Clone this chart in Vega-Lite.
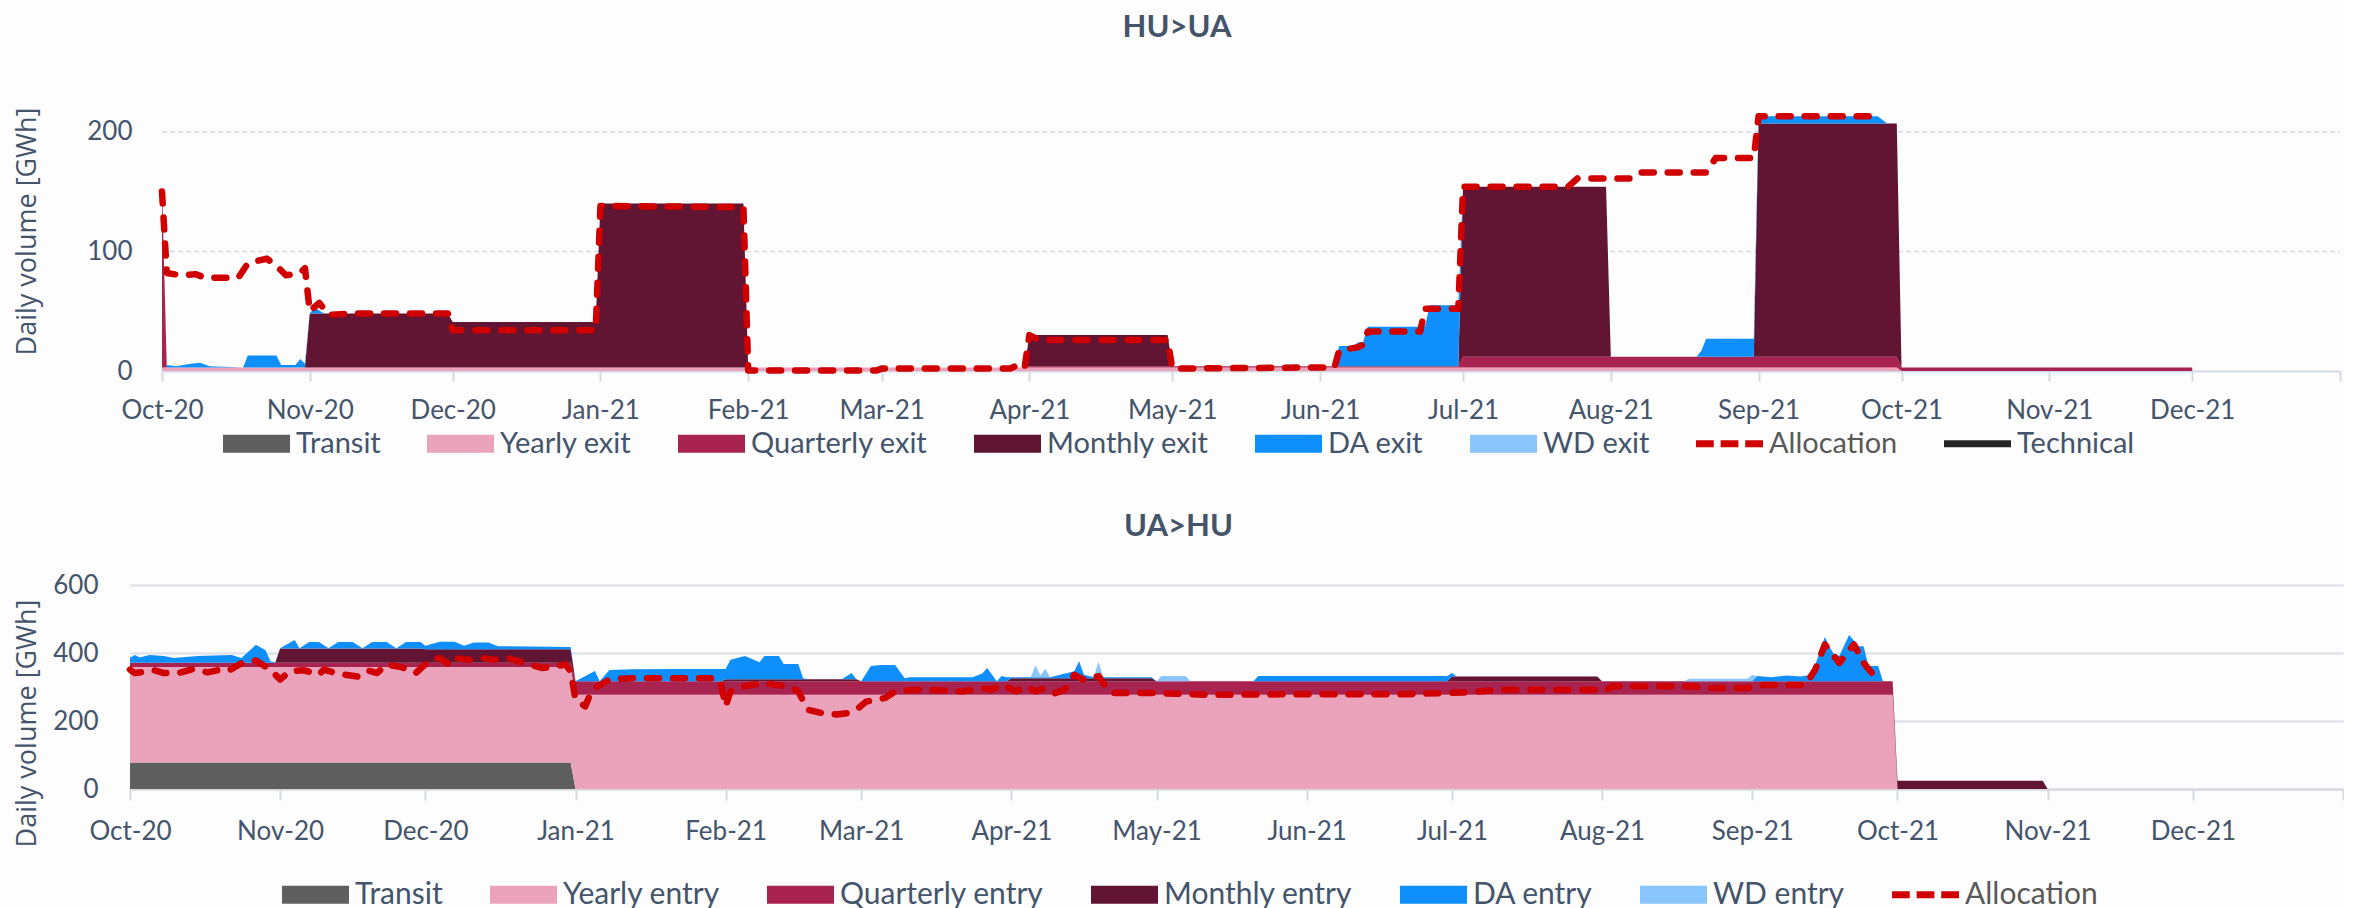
{
  "$schema": "https://vega.github.io/schema/vega-lite/v6.json",
  "background": "#fdfdfe",
  "padding": {"left": 13, "top": 12, "right": 0, "bottom": 0},
  "config": {
    "view": {"stroke": null},
    "axis": {"labelFont": "Lato", "labelFontSize": 26, "labelColor": "#44546A", "titleColor": "#44546A"}
  },
  "spacing": 52,
  "resolve": {"scale": {"x": "independent", "y": "independent", "color": "independent"}, "legend": {"color": "independent"}},
  "datasets": {
    "top_area": [
      {"d":"2020-10-01","Y":3,"Q":152,"M":0,"D":0},
      {"d":"2020-10-02","Y":3,"Q":0,"M":0,"D":2},
      {"d":"2020-10-04","Y":3,"Q":0,"M":0,"D":1},
      {"d":"2020-10-07","Y":3,"Q":0,"M":0,"D":3},
      {"d":"2020-10-09","Y":3,"Q":0,"M":0,"D":4},
      {"d":"2020-10-11","Y":3,"Q":0,"M":0,"D":1},
      {"d":"2020-10-18","Y":3,"Q":0,"M":0,"D":0},
      {"d":"2020-10-19","Y":3,"Q":0,"M":0,"D":10},
      {"d":"2020-10-25","Y":3,"Q":0,"M":0,"D":10},
      {"d":"2020-10-26","Y":3,"Q":0,"M":0,"D":2},
      {"d":"2020-10-29","Y":3,"Q":0,"M":0,"D":2},
      {"d":"2020-10-30","Y":3,"Q":0,"M":0,"D":7},
      {"d":"2020-10-31","Y":3,"Q":0,"M":0,"D":3},
      {"d":"2020-11-01","Y":3,"Q":0,"M":45,"D":0},
      {"d":"2020-11-02","Y":3,"Q":0,"M":45,"D":5},
      {"d":"2020-11-04","Y":3,"Q":0,"M":45,"D":0},
      {"d":"2020-11-30","Y":3,"Q":0,"M":45,"D":0},
      {"d":"2020-12-01","Y":3,"Q":0,"M":38,"D":0},
      {"d":"2020-12-31","Y":3,"Q":0,"M":38,"D":0},
      {"d":"2021-01-01","Y":3,"Q":0,"M":137,"D":0},
      {"d":"2021-01-31","Y":3,"Q":0,"M":137,"D":0},
      {"d":"2021-02-01","Y":3,"Q":0,"M":0,"D":0},
      {"d":"2021-03-31","Y":3,"Q":0,"M":0,"D":0},
      {"d":"2021-04-01","Y":3,"Q":1,"M":26,"D":0},
      {"d":"2021-04-30","Y":3,"Q":1,"M":26,"D":0},
      {"d":"2021-05-01","Y":3,"Q":1,"M":0,"D":0},
      {"d":"2021-06-04","Y":3,"Q":1,"M":0,"D":0},
      {"d":"2021-06-05","Y":3,"Q":1,"M":0,"D":17},
      {"d":"2021-06-08","Y":3,"Q":1,"M":0,"D":17},
      {"d":"2021-06-09","Y":3,"Q":1,"M":0,"D":20},
      {"d":"2021-06-10","Y":3,"Q":1,"M":0,"D":20},
      {"d":"2021-06-11","Y":3,"Q":1,"M":0,"D":33},
      {"d":"2021-06-23","Y":3,"Q":1,"M":0,"D":33},
      {"d":"2021-06-24","Y":3,"Q":1,"M":0,"D":51},
      {"d":"2021-06-30","Y":3,"Q":1,"M":0,"D":51},
      {"d":"2021-07-01","Y":3,"Q":9,"M":142,"D":0},
      {"d":"2021-07-31","Y":3,"Q":9,"M":142,"D":0},
      {"d":"2021-08-01","Y":3,"Q":9,"M":0,"D":0},
      {"d":"2021-08-19","Y":3,"Q":9,"M":0,"D":0},
      {"d":"2021-08-20","Y":3,"Q":9,"M":0,"D":5},
      {"d":"2021-08-21","Y":3,"Q":9,"M":0,"D":15},
      {"d":"2021-08-31","Y":3,"Q":9,"M":0,"D":15},
      {"d":"2021-09-01","Y":3,"Q":9,"M":195,"D":6},
      {"d":"2021-09-26","Y":3,"Q":9,"M":195,"D":6},
      {"d":"2021-09-28","Y":3,"Q":9,"M":195,"D":0},
      {"d":"2021-09-30","Y":3,"Q":9,"M":195,"D":0},
      {"d":"2021-10-01","Y":0,"Q":3,"M":0,"D":0},
      {"d":"2021-12-01","Y":0,"Q":3,"M":0,"D":0}
    ],
    "top_alloc": [
      {"d":"2020-10-01","v":150},{"d":"2020-10-02","v":82},{"d":"2020-10-05","v":80},{"d":"2020-10-08","v":81},
      {"d":"2020-10-10","v":78},{"d":"2020-10-17","v":78},{"d":"2020-10-19","v":90},{"d":"2020-10-23","v":94},
      {"d":"2020-10-25","v":88},{"d":"2020-10-27","v":80},{"d":"2020-10-30","v":82},{"d":"2020-10-31","v":86},
      {"d":"2020-11-01","v":50},{"d":"2020-11-03","v":57},{"d":"2020-11-05","v":47},{"d":"2020-11-10","v":48},
      {"d":"2020-11-30","v":48},{"d":"2020-12-01","v":34},{"d":"2020-12-31","v":34},{"d":"2021-01-01","v":138},
      {"d":"2021-01-31","v":137},{"d":"2021-02-01","v":0.5},{"d":"2021-02-28","v":0.5},{"d":"2021-03-01","v":2},
      {"d":"2021-03-28","v":2},{"d":"2021-03-30","v":6},{"d":"2021-03-31","v":3},{"d":"2021-04-01","v":30},
      {"d":"2021-04-03","v":26},{"d":"2021-04-30","v":26},{"d":"2021-05-01","v":2},{"d":"2021-05-31","v":3},
      {"d":"2021-06-04","v":3},{"d":"2021-06-05","v":17},{"d":"2021-06-09","v":20},{"d":"2021-06-10","v":22},
      {"d":"2021-06-11","v":33},{"d":"2021-06-22","v":33},{"d":"2021-06-23","v":52},{"d":"2021-06-30","v":52},
      {"d":"2021-07-01","v":154},{"d":"2021-07-23","v":154},{"d":"2021-07-25","v":161},{"d":"2021-08-05","v":161},
      {"d":"2021-08-07","v":166},{"d":"2021-08-21","v":166},{"d":"2021-08-23","v":178},{"d":"2021-08-31","v":178},
      {"d":"2021-09-01","v":213},{"d":"2021-09-26","v":213}
    ],
    "top_grid": [{"g": 100}, {"g": 200}],
    "bot_area": [
      {"d":"2020-10-01","T":78,"Y":281,"Q":12,"M":0,"D":15,"W":0},
      {"d":"2020-10-02","T":78,"Y":281,"Q":12,"M":0,"D":23,"W":0},
      {"d":"2020-10-03","T":78,"Y":281,"Q":12,"M":0,"D":16,"W":0},
      {"d":"2020-10-05","T":78,"Y":281,"Q":12,"M":0,"D":23,"W":0},
      {"d":"2020-10-08","T":78,"Y":281,"Q":12,"M":0,"D":20,"W":0},
      {"d":"2020-10-10","T":78,"Y":281,"Q":12,"M":0,"D":14,"W":0},
      {"d":"2020-10-15","T":78,"Y":281,"Q":12,"M":0,"D":20,"W":0},
      {"d":"2020-10-22","T":78,"Y":281,"Q":12,"M":0,"D":23,"W":0},
      {"d":"2020-10-24","T":78,"Y":281,"Q":12,"M":0,"D":14,"W":0},
      {"d":"2020-10-27","T":78,"Y":281,"Q":12,"M":0,"D":53,"W":0},
      {"d":"2020-10-29","T":78,"Y":281,"Q":12,"M":0,"D":37,"W":0},
      {"d":"2020-10-30","T":78,"Y":281,"Q":12,"M":0,"D":5,"W":0},
      {"d":"2020-10-31","T":78,"Y":281,"Q":12,"M":0,"D":2,"W":0},
      {"d":"2020-11-01","T":78,"Y":281,"Q":12,"M":42,"D":1,"W":0},
      {"d":"2020-11-04","T":78,"Y":281,"Q":12,"M":42,"D":25,"W":0},
      {"d":"2020-11-05","T":78,"Y":281,"Q":12,"M":42,"D":1,"W":0},
      {"d":"2020-11-07","T":78,"Y":281,"Q":12,"M":42,"D":19,"W":0},
      {"d":"2020-11-09","T":78,"Y":281,"Q":12,"M":42,"D":19,"W":0},
      {"d":"2020-11-11","T":78,"Y":281,"Q":12,"M":42,"D":1,"W":0},
      {"d":"2020-11-13","T":78,"Y":281,"Q":12,"M":42,"D":19,"W":0},
      {"d":"2020-11-16","T":78,"Y":281,"Q":12,"M":42,"D":19,"W":0},
      {"d":"2020-11-18","T":78,"Y":281,"Q":12,"M":42,"D":1,"W":0},
      {"d":"2020-11-20","T":78,"Y":281,"Q":12,"M":42,"D":19,"W":0},
      {"d":"2020-11-23","T":78,"Y":281,"Q":12,"M":42,"D":19,"W":0},
      {"d":"2020-11-25","T":78,"Y":281,"Q":12,"M":42,"D":1,"W":0},
      {"d":"2020-11-27","T":78,"Y":281,"Q":12,"M":42,"D":19,"W":0},
      {"d":"2020-11-30","T":78,"Y":281,"Q":12,"M":42,"D":19,"W":0},
      {"d":"2020-12-01","T":78,"Y":281,"Q":12,"M":40,"D":10,"W":0},
      {"d":"2020-12-04","T":78,"Y":281,"Q":12,"M":40,"D":22,"W":0},
      {"d":"2020-12-07","T":78,"Y":281,"Q":12,"M":40,"D":22,"W":0},
      {"d":"2020-12-09","T":78,"Y":281,"Q":12,"M":40,"D":10,"W":0},
      {"d":"2020-12-11","T":78,"Y":281,"Q":12,"M":40,"D":20,"W":0},
      {"d":"2020-12-14","T":78,"Y":281,"Q":12,"M":40,"D":20,"W":0},
      {"d":"2020-12-16","T":78,"Y":281,"Q":12,"M":40,"D":9,"W":0},
      {"d":"2020-12-31","T":78,"Y":281,"Q":12,"M":40,"D":7,"W":0},
      {"d":"2021-01-01","T":0,"Y":277,"Q":40,"M":0,"D":0,"W":0},
      {"d":"2021-01-05","T":0,"Y":277,"Q":40,"M":0,"D":30,"W":0},
      {"d":"2021-01-06","T":0,"Y":277,"Q":40,"M":0,"D":0,"W":0},
      {"d":"2021-01-08","T":0,"Y":277,"Q":40,"M":0,"D":33,"W":0},
      {"d":"2021-01-13","T":0,"Y":277,"Q":40,"M":0,"D":35,"W":0},
      {"d":"2021-01-22","T":0,"Y":277,"Q":40,"M":0,"D":36,"W":0},
      {"d":"2021-01-31","T":0,"Y":277,"Q":40,"M":0,"D":36,"W":0},
      {"d":"2021-02-01","T":0,"Y":277,"Q":40,"M":6,"D":30,"W":0},
      {"d":"2021-02-02","T":0,"Y":277,"Q":40,"M":6,"D":57,"W":0},
      {"d":"2021-02-05","T":0,"Y":277,"Q":40,"M":6,"D":68,"W":0},
      {"d":"2021-02-08","T":0,"Y":277,"Q":40,"M":6,"D":50,"W":0},
      {"d":"2021-02-09","T":0,"Y":277,"Q":40,"M":6,"D":68,"W":0},
      {"d":"2021-02-12","T":0,"Y":277,"Q":40,"M":6,"D":68,"W":0},
      {"d":"2021-02-13","T":0,"Y":277,"Q":40,"M":6,"D":45,"W":0},
      {"d":"2021-02-16","T":0,"Y":277,"Q":40,"M":6,"D":45,"W":0},
      {"d":"2021-02-17","T":0,"Y":277,"Q":40,"M":6,"D":3,"W":0},
      {"d":"2021-02-18","T":0,"Y":277,"Q":40,"M":6,"D":0,"W":0},
      {"d":"2021-02-25","T":0,"Y":277,"Q":40,"M":6,"D":0,"W":0},
      {"d":"2021-02-27","T":0,"Y":277,"Q":40,"M":6,"D":18,"W":0},
      {"d":"2021-02-28","T":0,"Y":277,"Q":40,"M":6,"D":0,"W":0},
      {"d":"2021-03-01","T":0,"Y":277,"Q":40,"M":0,"D":0,"W":0},
      {"d":"2021-03-03","T":0,"Y":277,"Q":40,"M":0,"D":45,"W":0},
      {"d":"2021-03-05","T":0,"Y":277,"Q":40,"M":0,"D":48,"W":0},
      {"d":"2021-03-08","T":0,"Y":277,"Q":40,"M":0,"D":48,"W":0},
      {"d":"2021-03-10","T":0,"Y":277,"Q":40,"M":0,"D":9,"W":0},
      {"d":"2021-03-11","T":0,"Y":277,"Q":40,"M":0,"D":12,"W":0},
      {"d":"2021-03-24","T":0,"Y":277,"Q":40,"M":0,"D":12,"W":0},
      {"d":"2021-03-26","T":0,"Y":277,"Q":40,"M":0,"D":23,"W":0},
      {"d":"2021-03-27","T":0,"Y":277,"Q":40,"M":0,"D":39,"W":0},
      {"d":"2021-03-29","T":0,"Y":277,"Q":40,"M":0,"D":0,"W":0},
      {"d":"2021-03-30","T":0,"Y":277,"Q":40,"M":0,"D":15,"W":0},
      {"d":"2021-03-31","T":0,"Y":277,"Q":40,"M":0,"D":12,"W":0},
      {"d":"2021-04-01","T":0,"Y":277,"Q":40,"M":9,"D":3,"W":0},
      {"d":"2021-04-05","T":0,"Y":277,"Q":40,"M":9,"D":3,"W":0},
      {"d":"2021-04-06","T":0,"Y":277,"Q":40,"M":9,"D":3,"W":35},
      {"d":"2021-04-07","T":0,"Y":277,"Q":40,"M":9,"D":3,"W":5},
      {"d":"2021-04-08","T":0,"Y":277,"Q":40,"M":9,"D":3,"W":25},
      {"d":"2021-04-09","T":0,"Y":277,"Q":40,"M":9,"D":3,"W":0},
      {"d":"2021-04-14","T":0,"Y":277,"Q":40,"M":9,"D":20,"W":0},
      {"d":"2021-04-15","T":0,"Y":277,"Q":40,"M":9,"D":50,"W":0},
      {"d":"2021-04-16","T":0,"Y":277,"Q":40,"M":9,"D":10,"W":0},
      {"d":"2021-04-18","T":0,"Y":277,"Q":40,"M":9,"D":3,"W":0},
      {"d":"2021-04-19","T":0,"Y":277,"Q":40,"M":9,"D":3,"W":45},
      {"d":"2021-04-20","T":0,"Y":277,"Q":40,"M":9,"D":3,"W":0},
      {"d":"2021-04-30","T":0,"Y":277,"Q":40,"M":9,"D":3,"W":0},
      {"d":"2021-05-01","T":0,"Y":277,"Q":40,"M":0,"D":0,"W":0},
      {"d":"2021-05-02","T":0,"Y":277,"Q":40,"M":0,"D":0,"W":15},
      {"d":"2021-05-07","T":0,"Y":277,"Q":40,"M":0,"D":0,"W":15},
      {"d":"2021-05-08","T":0,"Y":277,"Q":40,"M":0,"D":0,"W":0},
      {"d":"2021-05-21","T":0,"Y":277,"Q":40,"M":0,"D":0,"W":0},
      {"d":"2021-05-22","T":0,"Y":277,"Q":40,"M":0,"D":15,"W":0},
      {"d":"2021-06-30","T":0,"Y":277,"Q":40,"M":0,"D":15,"W":0},
      {"d":"2021-07-01","T":0,"Y":277,"Q":40,"M":14,"D":10,"W":0},
      {"d":"2021-07-02","T":0,"Y":277,"Q":40,"M":14,"D":0,"W":0},
      {"d":"2021-07-31","T":0,"Y":277,"Q":40,"M":14,"D":0,"W":0},
      {"d":"2021-08-01","T":0,"Y":277,"Q":40,"M":0,"D":0,"W":0},
      {"d":"2021-08-18","T":0,"Y":277,"Q":40,"M":0,"D":0,"W":0},
      {"d":"2021-08-19","T":0,"Y":277,"Q":40,"M":0,"D":0,"W":7},
      {"d":"2021-08-31","T":0,"Y":277,"Q":40,"M":0,"D":0,"W":7},
      {"d":"2021-09-01","T":0,"Y":277,"Q":40,"M":0,"D":0,"W":18},
      {"d":"2021-09-02","T":0,"Y":277,"Q":40,"M":0,"D":15,"W":0},
      {"d":"2021-09-05","T":0,"Y":277,"Q":40,"M":0,"D":12,"W":0},
      {"d":"2021-09-08","T":0,"Y":277,"Q":40,"M":0,"D":17,"W":0},
      {"d":"2021-09-11","T":0,"Y":277,"Q":40,"M":0,"D":14,"W":0},
      {"d":"2021-09-13","T":0,"Y":277,"Q":40,"M":0,"D":18,"W":0},
      {"d":"2021-09-14","T":0,"Y":277,"Q":40,"M":0,"D":48,"W":0},
      {"d":"2021-09-16","T":0,"Y":277,"Q":40,"M":0,"D":130,"W":0},
      {"d":"2021-09-17","T":0,"Y":277,"Q":40,"M":0,"D":100,"W":0},
      {"d":"2021-09-18","T":0,"Y":277,"Q":40,"M":0,"D":77,"W":0},
      {"d":"2021-09-19","T":0,"Y":277,"Q":40,"M":0,"D":75,"W":0},
      {"d":"2021-09-21","T":0,"Y":277,"Q":40,"M":0,"D":136,"W":0},
      {"d":"2021-09-22","T":0,"Y":277,"Q":40,"M":0,"D":120,"W":0},
      {"d":"2021-09-23","T":0,"Y":277,"Q":40,"M":0,"D":103,"W":0},
      {"d":"2021-09-24","T":0,"Y":277,"Q":40,"M":0,"D":103,"W":0},
      {"d":"2021-09-25","T":0,"Y":277,"Q":40,"M":0,"D":45,"W":0},
      {"d":"2021-09-27","T":0,"Y":277,"Q":40,"M":0,"D":45,"W":0},
      {"d":"2021-09-28","T":0,"Y":277,"Q":40,"M":0,"D":0,"W":0},
      {"d":"2021-09-30","T":0,"Y":277,"Q":40,"M":0,"D":0,"W":0},
      {"d":"2021-10-01","T":0,"Y":0,"Q":0,"M":24,"D":0,"W":0},
      {"d":"2021-10-31","T":0,"Y":0,"Q":0,"M":24,"D":0,"W":0},
      {"d":"2021-11-01","T":0,"Y":0,"Q":0,"M":0,"D":0,"W":0}
    ],
    "bot_alloc": [
      {"d":"2020-10-01","v":351},{"d":"2020-10-02","v":341},{"d":"2020-10-06","v":349},{"d":"2020-10-08","v":341},
      {"d":"2020-10-11","v":341},{"d":"2020-10-14","v":353},{"d":"2020-10-17","v":343},{"d":"2020-10-19","v":349},
      {"d":"2020-10-21","v":346},{"d":"2020-10-22","v":353},{"d":"2020-10-24","v":370},{"d":"2020-10-27","v":378},
      {"d":"2020-10-30","v":351},{"d":"2020-11-01","v":322},{"d":"2020-11-03","v":346},{"d":"2020-11-06","v":349},
      {"d":"2020-11-09","v":336},{"d":"2020-11-10","v":351},{"d":"2020-11-13","v":339},{"d":"2020-11-17","v":331},
      {"d":"2020-11-19","v":349},{"d":"2020-11-21","v":341},{"d":"2020-11-23","v":366},{"d":"2020-11-26","v":359},
      {"d":"2020-11-29","v":341},{"d":"2020-12-02","v":380},{"d":"2020-12-04","v":385},{"d":"2020-12-06","v":366},
      {"d":"2020-12-07","v":385},{"d":"2020-12-10","v":380},{"d":"2020-12-13","v":385},{"d":"2020-12-15","v":380},
      {"d":"2020-12-18","v":385},{"d":"2020-12-21","v":373},{"d":"2020-12-25","v":356},{"d":"2020-12-28","v":361},
      {"d":"2020-12-30","v":366},{"d":"2020-12-31","v":346},{"d":"2021-01-01","v":263},{"d":"2021-01-03","v":243},
      {"d":"2021-01-04","v":277},{"d":"2021-01-05","v":297},{"d":"2021-01-08","v":322},{"d":"2021-01-13","v":326},
      {"d":"2021-01-22","v":326},{"d":"2021-01-30","v":326},{"d":"2021-01-31","v":312},{"d":"2021-02-01","v":243},
      {"d":"2021-02-02","v":287},{"d":"2021-02-04","v":300},{"d":"2021-02-06","v":305},{"d":"2021-02-09","v":312},
      {"d":"2021-02-11","v":307},{"d":"2021-02-14","v":302},{"d":"2021-02-16","v":287},{"d":"2021-02-18","v":233},
      {"d":"2021-02-21","v":223},{"d":"2021-02-24","v":219},{"d":"2021-02-26","v":223},{"d":"2021-02-28","v":233},
      {"d":"2021-03-02","v":257},{"d":"2021-03-04","v":262},{"d":"2021-03-06","v":268},{"d":"2021-03-08","v":287},
      {"d":"2021-03-13","v":292},{"d":"2021-03-18","v":290},{"d":"2021-03-22","v":287},{"d":"2021-03-26","v":297},
      {"d":"2021-03-28","v":292},{"d":"2021-03-30","v":307},{"d":"2021-04-02","v":287},{"d":"2021-04-04","v":302},
      {"d":"2021-04-06","v":287},{"d":"2021-04-08","v":297},{"d":"2021-04-10","v":282},{"d":"2021-04-12","v":292},
      {"d":"2021-04-14","v":336},{"d":"2021-04-16","v":321},{"d":"2021-04-19","v":332},{"d":"2021-04-21","v":292},
      {"d":"2021-04-22","v":282},{"d":"2021-05-01","v":282},{"d":"2021-05-12","v":277},{"d":"2021-06-01","v":279},
      {"d":"2021-06-22","v":279},{"d":"2021-07-04","v":284},{"d":"2021-07-11","v":292},{"d":"2021-08-02","v":292},
      {"d":"2021-08-03","v":302},{"d":"2021-08-20","v":302},{"d":"2021-08-22","v":297},{"d":"2021-08-31","v":297},
      {"d":"2021-09-03","v":306},{"d":"2021-09-12","v":306},{"d":"2021-09-14","v":351},{"d":"2021-09-16","v":425},
      {"d":"2021-09-19","v":371},{"d":"2021-09-22","v":425},{"d":"2021-09-24","v":371},{"d":"2021-09-26","v":336}
    ]
  },
  "vconcat": [
    {
      "width": 2210,
      "height": 299,
      "title": {"text": "HU>UA", "font": "Lato", "fontSize": 31, "fontWeight": "bold", "color": "#44546A", "offset": 28, "anchor": "middle", "frame": "bounds"},
      "layer": [
        {
          "data": {"name": "top_grid"},
          "mark": {"type": "rule", "color": "#d6dbe2", "strokeWidth": 1.5, "strokeDash": [5, 3]},
          "encoding": {
            "y": {"field": "g", "type": "quantitative"},
            "x": {"datum": {"year": 2020, "month": 10, "date": 1, "utc": true}, "type": "temporal"},
            "x2": {"datum": {"year": 2022, "month": 1, "date": 1, "utc": true}}
          }
        },
        {
          "data": {"name": "top_area"},
          "transform": [
            {"fold": ["Y", "Q", "M", "D"], "as": ["key", "value"]},
            {"lookup": "key", "from": {"data": {"values": [
              {"key": "T", "series": "Transit", "k": 1},
              {"key": "Y", "series": "Yearly exit", "k": 2},
              {"key": "Q", "series": "Quarterly exit", "k": 3},
              {"key": "M", "series": "Monthly exit", "k": 4},
              {"key": "D", "series": "DA exit", "k": 5},
              {"key": "W", "series": "WD exit", "k": 6}
            ]}, "key": "key", "fields": ["series", "k"]}}
          ],
          "mark": {"type": "area", "interpolate": "linear", "opacity": 1},
          "encoding": {
            "x": {
              "field": "d", "type": "temporal",
              "scale": {"type": "utc", "range": [32, 2210], "domain": [{"year": 2020, "month": 10, "date": 1, "utc": true}, {"year": 2022, "month": 1, "date": 1, "utc": true}]},
              "axis": {
                "title": null, "grid": false,
                "values": [
                  {"year": 2020, "month": 10, "date": 1, "utc": true}, {"year": 2020, "month": 11, "date": 1, "utc": true},
                  {"year": 2020, "month": 12, "date": 1, "utc": true}, {"year": 2021, "month": 1, "date": 1, "utc": true},
                  {"year": 2021, "month": 2, "date": 1, "utc": true}, {"year": 2021, "month": 3, "date": 1, "utc": true},
                  {"year": 2021, "month": 4, "date": 1, "utc": true}, {"year": 2021, "month": 5, "date": 1, "utc": true},
                  {"year": 2021, "month": 6, "date": 1, "utc": true}, {"year": 2021, "month": 7, "date": 1, "utc": true},
                  {"year": 2021, "month": 8, "date": 1, "utc": true}, {"year": 2021, "month": 9, "date": 1, "utc": true},
                  {"year": 2021, "month": 10, "date": 1, "utc": true}, {"year": 2021, "month": 11, "date": 1, "utc": true},
                  {"year": 2021, "month": 12, "date": 1, "utc": true}, {"year": 2022, "month": 1, "date": 1, "utc": true}
                ],
                "labelExpr": "utcFormat(datum.value, '%b-%y') == 'Jan-22' ? '' : utcFormat(datum.value, '%b-%y')",
                "domainColor": "#d5dae1", "domainWidth": 2, "tickColor": "#d5dae1", "tickWidth": 2, "tickSize": 10,
                "labelPadding": 16, "labelOverlap": false, "labelFlush": false, "labelBound": false
              }
            },
            "y": {
              "field": "value", "type": "quantitative", "stack": "zero",
              "scale": {"domain": [0, 250], "nice": false},
              "axis": {
                "values": [0, 100, 200], "grid": false, "offset": -32,
                "domain": false, "ticks": false, "labelPadding": 30,
                "title": "Daily volume [GWh]", "titleFont": "Open Sans", "titleFontSize": 27, "titleFontWeight": "normal",
                "titleX": -135, "titleY": 159, "titleAngle": 270, "titleBaseline": "middle", "titleAlign": "center"
              }
            },
            "color": {
              "field": "series", "type": "nominal",
              "scale": {
                "domain": ["Transit", "Yearly exit", "Quarterly exit", "Monthly exit", "DA exit", "WD exit", "Allocation", "Technical"],
                "range": ["#5f5f5f", "#eba2bb", "#a8234f", "#611532", "#0e8ffb", "#8ac6fb", "#d00000", "#262626"]
              },
              "legend": {
                "orient": "none", "legendX": 93, "legendY": 338, "direction": "horizontal", "title": null, "padding": 0,
                "symbolType": "M-1,-0.27H1V0.27H-1Z", "symbolSize": 4489, "symbolStrokeWidth": 0, "symbolOpacity": 1,
                "labelFont": "Lato", "labelFontSize": 29, "labelColor": "#44546A", "labelOffset": 6, "labelLimit": 500,
                "columnPadding": 46,
                "encode": {
                  "symbols": {"update": {
                    "shape": {"signal": "datum.value === 'Allocation' ? 'M-1,-0.105H-0.47V0.105H-1Z M-0.265,-0.105H0.265V0.105H-0.265Z M0.47,-0.105H1V0.105H0.47Z' : (datum.value === 'Technical' ? 'M-1,-0.105H1V0.105H-1Z' : 'M-1,-0.27H1V0.27H-1Z')"}
                  }},
                  "labels": {"update": {"fill": {"signal": "datum.value === 'Allocation' ? '#595959' : '#44546A'"}}}
                }
              }
            },
            "order": {"field": "k", "type": "quantitative", "sort": "ascending"}
          }
        },
        {
          "data": {"name": "top_alloc"},
          "mark": {"type": "line", "color": "#d00000", "strokeWidth": 6.5, "strokeDash": [12, 14], "strokeCap": "round", "strokeJoin": "round"},
          "encoding": {
            "x": {"field": "d", "type": "temporal"},
            "y": {"field": "v", "type": "quantitative"}
          }
        }
      ]
    },
    {
      "width": 2213,
      "height": 204,
      "title": {"text": "UA>HU", "font": "Lato", "fontSize": 31, "fontWeight": "bold", "color": "#44546A", "offset": 29, "anchor": "middle", "frame": "bounds"},
      "layer": [
        {
          "data": {"name": "bot_area"},
          "transform": [
            {"fold": ["T", "Y", "Q", "M", "D", "W"], "as": ["key", "value"]},
            {"lookup": "key", "from": {"data": {"values": [
              {"key": "T", "series": "Transit", "k": 1},
              {"key": "Y", "series": "Yearly entry", "k": 2},
              {"key": "Q", "series": "Quarterly entry", "k": 3},
              {"key": "M", "series": "Monthly entry", "k": 4},
              {"key": "D", "series": "DA entry", "k": 5},
              {"key": "W", "series": "WD entry", "k": 6}
            ]}, "key": "key", "fields": ["series", "k"]}}
          ],
          "mark": {"type": "area", "interpolate": "linear", "opacity": 1},
          "encoding": {
            "x": {
              "field": "d", "type": "temporal",
              "scale": {"type": "utc", "domain": [{"year": 2020, "month": 10, "date": 1, "utc": true}, {"year": 2022, "month": 1, "date": 1, "utc": true}]},
              "axis": {
                "title": null, "grid": false,
                "values": [
                  {"year": 2020, "month": 10, "date": 1, "utc": true}, {"year": 2020, "month": 11, "date": 1, "utc": true},
                  {"year": 2020, "month": 12, "date": 1, "utc": true}, {"year": 2021, "month": 1, "date": 1, "utc": true},
                  {"year": 2021, "month": 2, "date": 1, "utc": true}, {"year": 2021, "month": 3, "date": 1, "utc": true},
                  {"year": 2021, "month": 4, "date": 1, "utc": true}, {"year": 2021, "month": 5, "date": 1, "utc": true},
                  {"year": 2021, "month": 6, "date": 1, "utc": true}, {"year": 2021, "month": 7, "date": 1, "utc": true},
                  {"year": 2021, "month": 8, "date": 1, "utc": true}, {"year": 2021, "month": 9, "date": 1, "utc": true},
                  {"year": 2021, "month": 10, "date": 1, "utc": true}, {"year": 2021, "month": 11, "date": 1, "utc": true},
                  {"year": 2021, "month": 12, "date": 1, "utc": true}, {"year": 2022, "month": 1, "date": 1, "utc": true}
                ],
                "labelExpr": "utcFormat(datum.value, '%b-%y') == 'Jan-22' ? '' : utcFormat(datum.value, '%b-%y')",
                "domainColor": "#d5dae1", "domainWidth": 2, "tickColor": "#d5dae1", "tickWidth": 2, "tickSize": 11,
                "labelPadding": 18, "labelOverlap": false, "labelFlush": false, "labelBound": false
              }
            },
            "y": {
              "field": "value", "type": "quantitative", "stack": "zero",
              "scale": {"domain": [0, 600], "nice": false},
              "axis": {
                "values": [0, 200, 400, 600], "grid": true, "gridColor": "#dfe3e9", "gridWidth": 2.5,
                "domain": false, "ticks": false, "labelPadding": 32,
                "title": "Daily volume [GWh]", "titleFont": "Open Sans", "titleFontSize": 27, "titleFontWeight": "normal",
                "titleX": -103, "titleY": 138, "titleAngle": 270, "titleBaseline": "middle", "titleAlign": "center"
              }
            },
            "color": {
              "field": "series", "type": "nominal",
              "scale": {
                "domain": ["Transit", "Yearly entry", "Quarterly entry", "Monthly entry", "DA entry", "WD entry", "Allocation"],
                "range": ["#5f5f5f", "#eba2bb", "#a8234f", "#611532", "#0e8ffb", "#8ac6fb", "#d00000"]
              },
              "legend": {
                "orient": "none", "legendX": 152, "legendY": 276, "direction": "horizontal", "title": null, "padding": 0,
                "symbolType": "M-1,-0.27H1V0.27H-1Z", "symbolSize": 4489, "symbolStrokeWidth": 0, "symbolOpacity": 1,
                "labelFont": "Lato", "labelFontSize": 30, "labelColor": "#44546A", "labelOffset": 6, "labelLimit": 500,
                "columnPadding": 47,
                "encode": {
                  "symbols": {"update": {
                    "shape": {"signal": "datum.value === 'Allocation' ? 'M-1,-0.105H-0.47V0.105H-1Z M-0.265,-0.105H0.265V0.105H-0.265Z M0.47,-0.105H1V0.105H0.47Z' : 'M-1,-0.27H1V0.27H-1Z'"}
                  }},
                  "labels": {"update": {"fill": {"signal": "datum.value === 'Allocation' ? '#595959' : '#44546A'"}}}
                }
              }
            },
            "order": {"field": "k", "type": "quantitative", "sort": "ascending"}
          }
        },
        {
          "data": {"name": "bot_alloc"},
          "mark": {"type": "line", "color": "#d00000", "strokeWidth": 6.5, "strokeDash": [12, 14], "strokeCap": "round", "strokeJoin": "round"},
          "encoding": {
            "x": {"field": "d", "type": "temporal"},
            "y": {"field": "v", "type": "quantitative"}
          }
        }
      ]
    }
  ]
}
